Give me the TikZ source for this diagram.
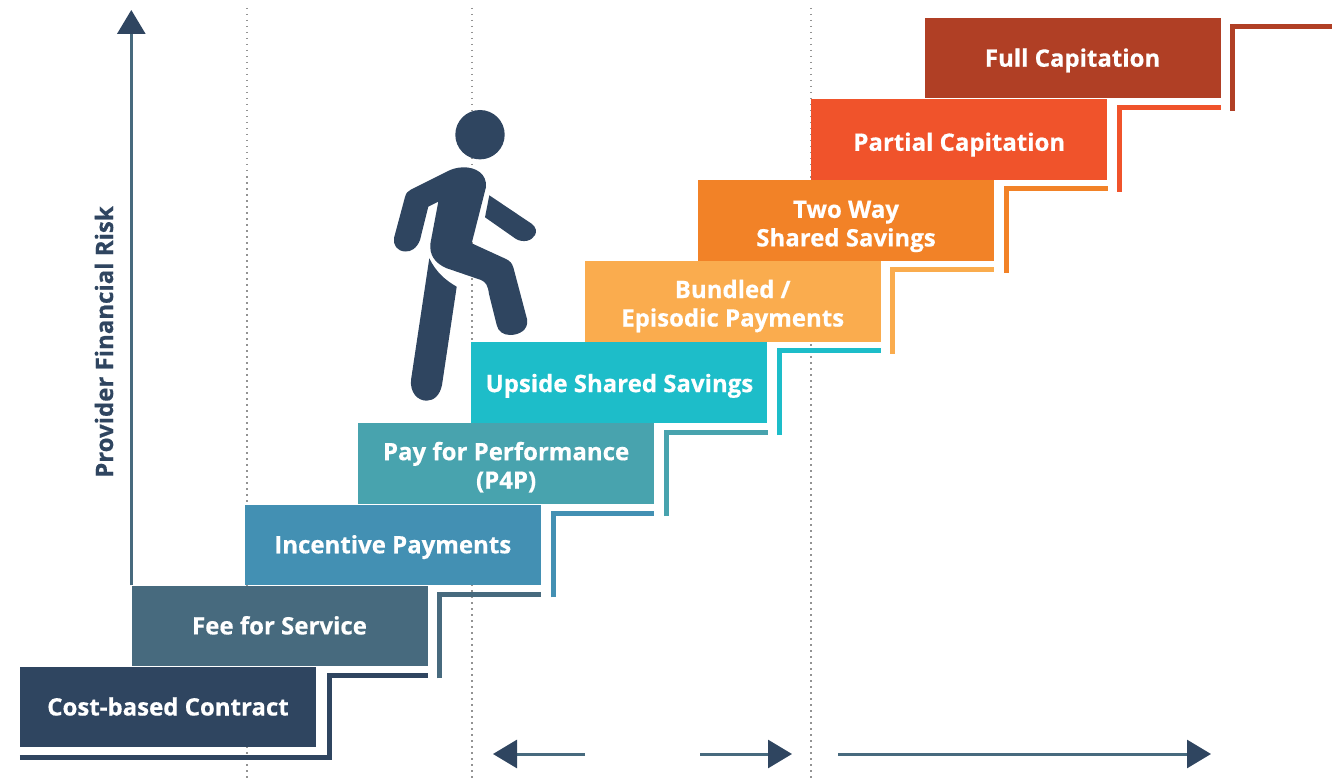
\documentclass[tikz,border=0pt]{standalone}
\usepackage{fontspec}
\setmainfont{Open Sans}[BoldFeatures={FakeBold=0.5}]
\usetikzlibrary{positioning,arrows.meta}

\definecolor{navy}{HTML}{2F4560}
\definecolor{slate}{HTML}{476A7E}
\definecolor{steel}{HTML}{4390B3}
\definecolor{seagreen}{HTML}{48A3AE}
\definecolor{teal}{HTML}{1DBDC9}
\definecolor{sand}{HTML}{FAAC4E}
\definecolor{amber}{HTML}{F28227}
\definecolor{vermil}{HTML}{F0532B}
\definecolor{rust}{HTML}{B03F25}

\tikzset{drop/.style={execute at begin node={\rule{0pt}{#1pt}}}}
\tikzstyle{stepbox} = [rectangle, minimum width=296pt, minimum height=80.5pt, inner sep=0pt, text=white, align=center, font=\fontsize{24}{28.5}\selectfont\bfseries, execute at end node={\rule[-6pt]{0pt}{6pt}}]
\tikzstyle{bracket} = [line width=5pt]
\tikzstyle{guide} = [gray!85, line width=1.5pt, dash pattern=on 1.5pt off 4.5pt]
\tikzstyle{axis} = [slate, line width=3pt, -{Triangle[length=24pt,width=28pt,color=navy]}]

\begin{document}
\begin{tikzpicture}[x=1pt, y=-1pt, node distance=81.1pt and 113.3pt, on grid]
  \useasboundingbox (0,0) rectangle (1342,781);

  % vertical guides
  \coordinate (guideA) at (247,8);
  \coordinate (guideB) at (472,8);
  \coordinate (guideC) at (811,8);
  \draw [guide] (guideA) -- (guideA |- 0,781);
  \draw [guide] (guideB) -- (guideB |- 0,781);
  \draw [guide] (guideC) -- (guideC |- 0,781);

  % stairs
  \node [stepbox, fill=navy, drop=23] (cost) at (168,707) {Cost-based Contract};
  \node [stepbox, fill=slate, drop=23, above right=81.1pt and 111.5pt of cost] (fee) {Fee for Service};
  \node [stepbox, fill=steel, drop=23, above right=of fee] (incentive) {Incentive Payments};
  \node [stepbox, fill=seagreen, drop=56, above right=of incentive] (perf) {Pay for Performance\\(P4P)};
  \node [stepbox, fill=teal, drop=25, above right=of perf] (upside) {Upside Shared Savings};
  \node [stepbox, fill=sand, drop=56, above right=of upside] (bundled) {Bundled /\\Episodic Payments};
  \node [stepbox, fill=amber, drop=58, above right=of bundled] (twoway) {Two Way\\Shared Savings};
  \node [stepbox, fill=vermil, drop=29, above right=of twoway] (partial) {Partial Capitation};
  \node [stepbox, fill=rust, drop=23, above right=of partial] (full) {Full Capitation};

  % step outlines
  \coordinate (costcorner) at ([shift={(13pt,-9pt)}]cost.north east);
  \coordinate (fullend) at (1332,27);
  \draw [bracket, navy] ([yshift=-10pt]cost.south west) -| (costcorner) -- (costcorner -| fee.east);
  \draw [bracket, slate] ([shift={(12pt,-12pt)}]fee.south east) |- ([yshift=-9pt]incentive.south east);
  \draw [bracket, steel] ([shift={(12pt,-12pt)}]incentive.south east) |- ([yshift=-9pt]perf.south east);
  \draw [bracket, seagreen] ([shift={(12pt,-12pt)}]perf.south east) |- ([yshift=-9pt]upside.south east);
  \draw [bracket, teal] ([shift={(12pt,-12pt)}]upside.south east) |- ([yshift=-9pt]bundled.south east);
  \draw [bracket, sand] ([shift={(12pt,-12pt)}]bundled.south east) |- ([yshift=-9pt]twoway.south east);
  \draw [bracket, amber] ([shift={(12pt,-12pt)}]twoway.south east) |- ([yshift=-9pt]partial.south east);
  \draw [bracket, vermil] ([shift={(12pt,-12pt)}]partial.south east) |- ([yshift=-9pt]full.south east);
  \draw [bracket, rust] ([shift={(12pt,-12pt)}]full.south east) |- (fullend);

  % risk axis
  \coordinate (axistop) at (fee.west |- 0,10);
  \draw [axis] (fee.north west) -- (axistop);
  \node [rotate=90, text=navy, font=\fontsize{24}{28}\selectfont\bfseries] (risk) at (104,342) {Provider Financial Risk};

  % bottom arrows
  \coordinate (leftA) at (585,754);
  \coordinate (leftB) at (493,754);
  \coordinate (midA) at (700,754);
  \coordinate (midB) at (792,754);
  \coordinate (longA) at (838,754);
  \coordinate (longB) at (1211,754);
  \draw [axis] (leftA) -- (leftB);
  \draw [axis] (midA) -- (midB);
  \draw [axis] (longA) -- (longB);

  % walker
  \fill [navy] (480,134.7) circle (24.7);
  \fill [navy] (463,167.3) .. controls (476,167) and (487,174) .. (486,187)
    -- (471.7,243.3) -- (506,259) .. controls (510,261) and (512,263) .. (513.5,268)
    -- (527,319) .. controls (529,330) and (519,335) .. (510,335)
    .. controls (503,335) and (498,331) .. (496.7,325)
    -- (489,294) .. controls (488,286) and (486,282) .. (481,280)
    -- (446,268) .. controls (435,263) and (429,255) .. (430.5,243)
    -- (438.3,201.7) -- (428.3,206.7) -- (420,240)
    .. controls (417,248) and (411,252) .. (405,251.5)
    .. controls (397,251) and (393,245) .. (394,238)
    -- (405,197) .. controls (406,193) and (408,191) .. (411,189.5)
    -- (447,171.5) .. controls (452,169) and (457,167.5) .. (463,167.3) -- cycle;
  \fill [navy] (429.3,258.3) .. controls (436,272) and (445,280) .. (456.7,286.7)
    -- (442,385) .. controls (440,395) and (434,400.7) .. (426.7,400.7)
    .. controls (417,400.7) and (410,392) .. (411,380) -- cycle;
  \fill [navy] (489.3,195.3) -- (532,224) .. controls (536,227) and (537,232) .. (535,235)
    .. controls (532,241) and (523,243) .. (516,239)
    -- (485,217.3) -- cycle;
\end{tikzpicture}
\end{document}
